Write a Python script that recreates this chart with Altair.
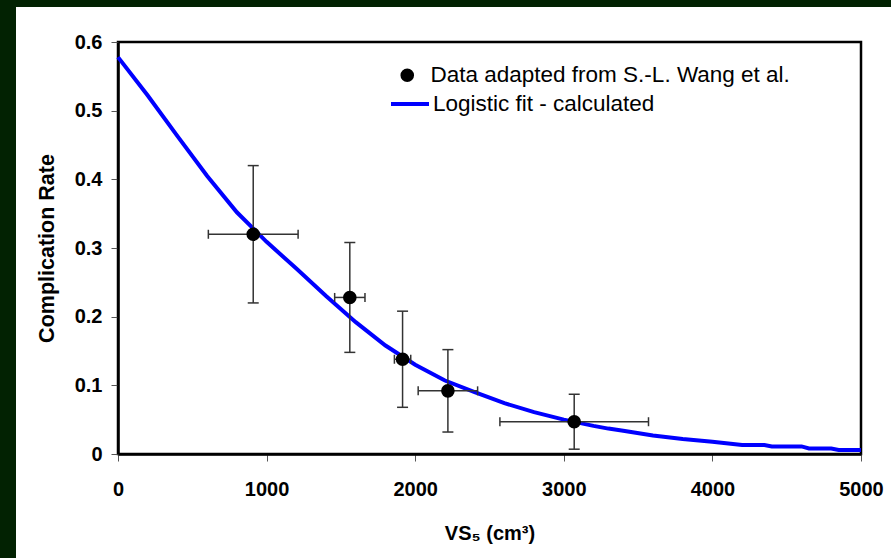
import altair as alt
import pandas as pd

# ---- data ----
series_data = "Data adapted from S.-L. Wang et al."
series_fit = "Logistic fit - calculated"

pt_x = [910, 1560, 1915, 2220, 3070]
pt_y = [0.320, 0.228, 0.138, 0.092, 0.047]
pt_xerr = [302, 102, 55, 200, 500]
pt_yerr = [0.100, 0.080, 0.070, 0.060, 0.040]

fit_x = [0, 200, 400, 600, 800, 1000, 1200, 1400, 1600, 1800, 2000, 2200, 2400,
         2600, 2800, 3000, 3200, 3300, 3400, 3600, 3800, 4000, 4200, 4350, 4400,
         4600, 4650, 4800, 4850, 5000]
fit_y = [0.578, 0.522, 0.463, 0.405, 0.352, 0.309, 0.270, 0.230, 0.192, 0.158,
         0.130, 0.107, 0.090, 0.074, 0.061, 0.050, 0.041, 0.037, 0.034, 0.027,
         0.022, 0.018, 0.013, 0.013, 0.011, 0.011, 0.008, 0.008, 0.006, 0.006]

x_ticks = [0, 1000, 2000, 3000, 4000, 5000]
y_ticks = [0, 0.1, 0.2, 0.3, 0.4, 0.5, 0.6]

x_title = "VS\u2085 (cm\u00b3)"
y_title = "Complication Rate"

# ---- tables ----
pts = pd.DataFrame({"x": pt_x, "y": pt_y, "xerr": pt_xerr, "yerr": pt_yerr})
pts["xlo"] = pts["x"] - pts["xerr"]
pts["xhi"] = pts["x"] + pts["xerr"]
pts["ylo"] = pts["y"] - pts["yerr"]
pts["yhi"] = pts["y"] + pts["yerr"]
pts["series"] = series_data

fit = pd.DataFrame({"x": fit_x, "y": fit_y, "series": series_fit})

FONT = "Liberation Sans"
xs = alt.Scale(domain=[0, 5000], nice=False, zero=True)
ys = alt.Scale(domain=[0, 0.6], nice=False, zero=True)

x_axis = alt.Axis(values=x_ticks, format="d", labelPadding=18, titlePadding=24,
                  labelFlush=False)
y_axis = alt.Axis(values=y_ticks, labelPadding=9, titlePadding=16, titleFontSize=21.5,
                  labelFlush=False,
                  labelExpr="datum.value == 0 ? '0' : format(datum.value, '.1f')")


def X(field):
    return alt.X(field, type="quantitative", scale=xs, axis=x_axis, title=x_title)


def Y(field):
    return alt.Y(field, type="quantitative", scale=ys, axis=y_axis, title=y_title)


# dark frame strips (outside the plot area, decorative background)
strip_df = pd.DataFrame({"k": [0]})
strip_left = alt.Chart(strip_df).mark_rect(color="#022202").encode(
    x=alt.value(-118), x2=alt.value(-102), y=alt.value(-42), y2=alt.value(520))
strip_top = alt.Chart(strip_df).mark_rect(color="#022202").encode(
    x=alt.value(-118), x2=alt.value(780), y=alt.value(-42), y2=alt.value(-35))

line = alt.Chart(fit).mark_line(strokeWidth=4).encode(
    x=X("x"), y=Y("y"),
    color=alt.Color("series:N",
                    scale=alt.Scale(domain=[series_fit], range=["#0000ff"]),
                    legend=alt.Legend(orient="none", legendX=271, legendY=41,
                                      title=None, symbolType="stroke",
                                      symbolSize=1444, symbolStrokeWidth=4,
                                      labelOffset=2, padding=0)),
)

err_color = "#333333"
vbar = alt.Chart(pts).mark_rule(color=err_color, strokeWidth=1.5).encode(
    x=X("x"), y=Y("ylo"), y2="yhi")
hbar = alt.Chart(pts).mark_rule(color=err_color, strokeWidth=1.5).encode(
    x=X("xlo"), x2="xhi", y=Y("y"))
cap_lo = alt.Chart(pts).mark_tick(orient="horizontal", size=11, thickness=1.5,
                                  color=err_color, opacity=1).encode(x=X("x"), y=Y("ylo"))
cap_hi = alt.Chart(pts).mark_tick(orient="horizontal", size=11, thickness=1.5,
                                  color=err_color, opacity=1).encode(x=X("x"), y=Y("yhi"))
cap_l = alt.Chart(pts).mark_tick(orient="vertical", size=9, thickness=1.5,
                                 color=err_color, opacity=1).encode(x=X("xlo"), y=Y("y"))
cap_r = alt.Chart(pts).mark_tick(orient="vertical", size=9, thickness=1.5,
                                 color=err_color, opacity=1).encode(x=X("xhi"), y=Y("y"))

points = alt.Chart(pts).mark_circle(size=185, opacity=1).encode(
    x=X("x"), y=Y("y"),
    color=alt.Color("series:N",
                    scale=alt.Scale(domain=[series_data], range=["black"]),
                    legend=alt.Legend(orient="none", legendX=278, legendY=22,
                                      title=None, symbolType="circle",
                                      symbolSize=185, labelOffset=12, padding=0,
                                      symbolOpacity=1)),
)

chart = alt.layer(
    strip_left, strip_top, line, vbar, hbar, cap_lo, cap_hi, cap_l, cap_r, points
).resolve_scale(color="independent").properties(
    width=743, height=412,
    autosize=alt.AutoSizeParams(type="none"),
    padding={"left": 118, "top": 42, "right": 30, "bottom": 104},
    background="white",
).configure_view(
    stroke="black", strokeWidth=2.5
).configure_axis(
    grid=False, zindex=1,
    domainColor="black", domainWidth=2.5,
    tickColor="#555555", tickWidth=1, tickSize=7,
    labelFont=FONT, labelFontSize=20, labelFontWeight="bold", labelColor="black",
    titleFont=FONT, titleFontSize=20, titleFontWeight="bold", titleColor="black",
).configure_legend(
    labelFont=FONT, labelFontSize=22.5, labelColor="black", labelFontWeight="normal",
    rowPadding=6, labelLimit=0,
)

chart.save("out.html", embed_options={"renderer": "svg", "actions": False})
